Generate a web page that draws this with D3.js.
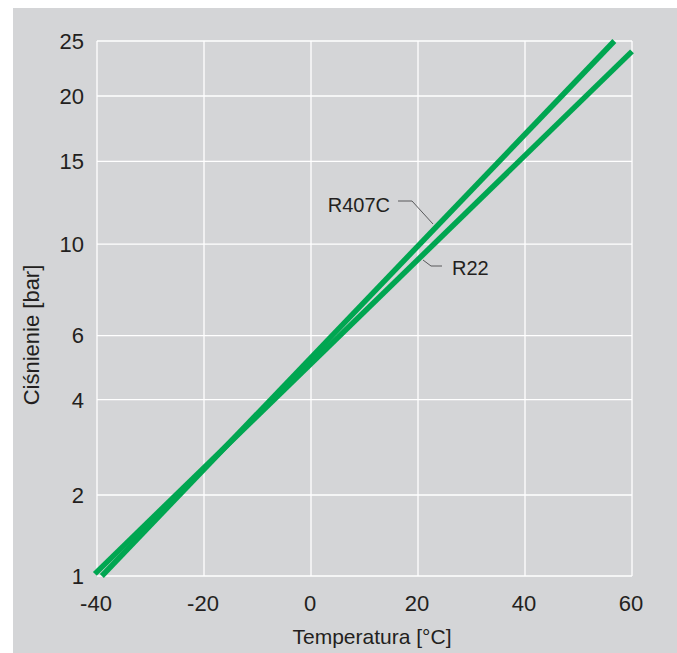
<!DOCTYPE html>
<html>
<head>
<meta charset="utf-8">
<script src="https://cdn.jsdelivr.net/npm/d3@7"></script>
<style>
  html, body { margin: 0; padding: 0; background: #ffffff; }
  svg { display: block; }
  text { font-family: "Liberation Sans", Arial, Helvetica, sans-serif; fill: #231f20; }
</style>
</head>
<body>
<svg id="chart" width="677" height="653"></svg>
<script>
// ---- data ----
const xTicks = [-40, -20, 0, 20, 40, 60];
const yTicks = [1, 2, 4, 6, 10, 15, 20, 25];
const seriesNames = ["R407C", "R22"];
const r407cTemp = [-39.1, 56.7];
const r407cPres = [1.0, 25.0];
const r22Temp = [-40.4, 60.0];
const r22Pres = [1.02, 24.0];
const xTitle = "Temperatura [°C]";
const yTitle = "Ciśnienie [bar]";

// ---- layout ----
const W = 677, H = 653;
const plot = { left: 97, right: 632, top: 41, bottom: 576 };
const green = "#00a651";
const bg = "#d4d5d7";

const svg = d3.select("#chart");

svg.append("rect").attr("x", 13).attr("y", 8).attr("width", W - 13).attr("height", H - 8).attr("fill", bg);

const x = d3.scaleLinear().domain([-40, 60]).range([plot.left, plot.right]);
// pressure axis: saturation-type scale, 1/(A - ln p)
const A = 9.2;
const tf = p => 1 / (A - Math.log(p));
const yLin = d3.scaleLinear().domain([tf(1), tf(25)]).range([plot.bottom, plot.top]);
const y = p => yLin(tf(p));

// grid
const g = svg.append("g");
g.selectAll("line.v").data(xTicks).enter().append("line")
  .attr("x1", d => x(d)).attr("x2", d => x(d))
  .attr("y1", plot.top).attr("y2", plot.bottom)
  .attr("stroke", "#ffffff").attr("stroke-width", 1.3);
g.selectAll("line.h").data(yTicks).enter().append("line")
  .attr("x1", plot.left).attr("x2", plot.right)
  .attr("y1", d => y(d)).attr("y2", d => y(d))
  .attr("stroke", "#ffffff").attr("stroke-width", 1.3);

// tick labels
svg.append("g").selectAll("text").data(yTicks).enter().append("text")
  .attr("x", 84).attr("y", d => y(d)).attr("dy", "0.36em")
  .attr("text-anchor", "end").attr("font-size", 22)
  .text(d => d);
svg.append("g").selectAll("text").data(xTicks).enter().append("text")
  .attr("x", d => x(d) - 1).attr("y", 611)
  .attr("text-anchor", "middle").attr("font-size", 22)
  .text(d => d);

// axis titles
svg.append("text").attr("x", 372).attr("y", 644)
  .attr("text-anchor", "middle").attr("font-size", 21).text(xTitle);
svg.append("text").attr("transform", "translate(39,335) rotate(-90)")
  .attr("text-anchor", "middle").attr("font-size", 22).text(yTitle);

// series lines
const series = [
  { name: seriesNames[0], pts: r407cTemp.map((t, i) => [t, r407cPres[i]]) },
  { name: seriesNames[1], pts: r22Temp.map((t, i) => [t, r22Pres[i]]) }
];
const line = d3.line().x(d => x(d[0])).y(d => y(d[1]));
svg.append("g").selectAll("path").data(series).enter().append("path")
  .attr("d", d => line(d.pts))
  .attr("fill", "none").attr("stroke", green).attr("stroke-width", 5.5)
  .attr("stroke-linecap", "butt");

// annotations
const ann = svg.append("g");
ann.append("path").attr("d", "M398,201 L412,201 L433,224")
  .attr("fill", "none").attr("stroke", "#58595b").attr("stroke-width", 1);
ann.append("text").attr("x", 390).attr("y", 212).attr("text-anchor", "end")
  .attr("font-size", 20).text(seriesNames[0]);
ann.append("path").attr("d", "M423,260 L431,266 L442,266")
  .attr("fill", "none").attr("stroke", "#58595b").attr("stroke-width", 1);
ann.append("text").attr("x", 452).attr("y", 275).attr("text-anchor", "start")
  .attr("font-size", 20).text(seriesNames[1]);
</script>
</body>
</html>
